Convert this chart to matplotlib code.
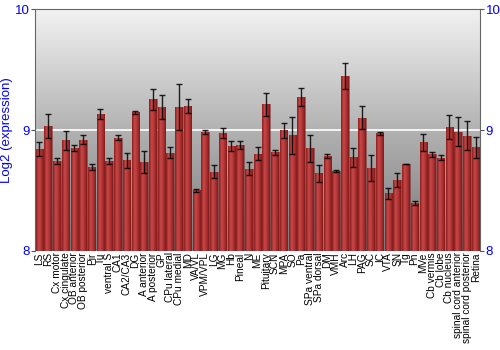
import matplotlib
matplotlib.use("Agg")
import matplotlib.pyplot as plt
import numpy as np
from matplotlib.colors import LinearSegmentedColormap

plt.rcParams["font.family"] = ["Liberation Sans", "DejaVu Sans"]

regions = [
    "LS", "RS", "Cx motor", "Cx cingulate", "OB anterior", "OB posterior", "Pir", "Tu",
    "ventral S", "CA1", "CA2/CA3", "DG", "A anterior", "A posterior", "GP", "CPu lateral",
    "CPu medial", "MD", "VA/VL", "VPM/VPL", "LG", "MG", "Hb", "Pineal", "N", "ME",
    "Pituitary", "SCN", "MPA", "SO", "Pa", "SPa ventral", "SPa dorsal", "DM", "VMH", "Arc",
    "LH", "PAG", "SC", "IC", "VTA", "SN", "Tg", "Pn", "MVe", "Cb vermis", "Cb lobe",
    "Cb nucleus", "spinal cord anterior", "spinal cord posterior", "Retina",
]
log2_expr = [
    8.846, 9.031, 8.746, 8.915, 8.851, 8.920, 8.693, 9.133,
    8.743, 8.937, 8.749, 9.147, 8.732, 9.254, 9.191, 8.813,
    9.191, 9.199, 8.500, 8.983, 8.655, 8.975, 8.871, 8.879, 8.680, 8.804,
    9.213, 8.815, 8.998, 8.956, 9.273, 8.848, 8.641, 8.785, 8.663, 9.445,
    8.774, 9.103, 8.688, 8.973, 8.476, 8.583, 8.718, 8.396, 8.898, 8.799, 8.771,
    9.028, 8.987, 8.953, 8.857,
]
sem = [
    0.058, 0.100, 0.025, 0.077, 0.022, 0.036, 0.025, 0.044,
    0.028, 0.022, 0.061, 0.011, 0.091, 0.087, 0.098, 0.044,
    0.190, 0.058, 0.011, 0.017, 0.052, 0.039, 0.041, 0.033, 0.055, 0.055,
    0.093, 0.019, 0.061, 0.152, 0.073, 0.112, 0.068, 0.019, 0.006, 0.109,
    0.080, 0.094, 0.109, 0.011, 0.045, 0.058, 0.003, 0.017, 0.070, 0.019, 0.023,
    0.100, 0.120, 0.120, 0.086,
]
y_ticks = [8, 9, 10]

x = np.arange(len(regions))
fig = plt.figure(figsize=(5, 3.5), dpi=100)
ax = fig.add_axes([0.07, 0.283, 0.89, 0.691])
ax.set_xlim(-0.5, len(regions) - 0.5)
ax.set_ylim(8, 10)

# grey vertical gradient background
bg = LinearSegmentedColormap.from_list("bg", ["#787878", "#b2b2b2", "#f2f2f2"])
ax.imshow(np.linspace(0, 1, 256).reshape(-1, 1), cmap=bg, origin="lower",
          extent=[-0.5, len(regions) - 0.5, 8, 10], aspect="auto", zorder=0)
ax.axhline(9, color="white", lw=1.2, zorder=1)

# bars with a horizontal red shading
red = LinearSegmentedColormap.from_list("red", ["#8a1e1e", "#c84848", "#b03434", "#7e1a1a"])
shade = np.linspace(0, 1, 64).reshape(1, -1)
bars = ax.bar(x, np.array(log2_expr) - 8, bottom=8, width=0.86,
              color="none", edgecolor="#7a2020", lw=0.4, zorder=2)
for b in bars:
    im = ax.imshow(shade, cmap=red, aspect="auto", zorder=2,
                   extent=[b.get_x(), b.get_x() + b.get_width(), 8, b.get_y() + b.get_height()])
    im.set_clip_path(b)
ax.errorbar(x, log2_expr, yerr=sem, fmt="none", ecolor="black", elinewidth=1.0,
            capsize=2.2, capthick=1.0, alpha=0.85, zorder=3)

ax.set_xticks(x)
ax.set_xticklabels(regions, rotation=90, fontsize=7.3)
ax.tick_params(axis="x", length=0, pad=1)
ax.set_yticks(y_ticks)
ax.set_yticklabels([str(t) for t in y_ticks])
ax.tick_params(axis="y", which="both", direction="out", length=3, color="#555555",
               labelcolor="#0000ff", labelsize=9.5, left=True, right=True,
               labelleft=True, labelright=True, pad=1)
ax.set_ylabel("Log2 (expression)", color="#0000ff", fontsize=9.5, labelpad=1)
for side in ["left", "right", "top"]:
    ax.spines[side].set_color("#666666")
    ax.spines[side].set_linewidth(0.8)
ax.spines["bottom"].set_visible(False)

fig.savefig("out.png", dpi=100)
